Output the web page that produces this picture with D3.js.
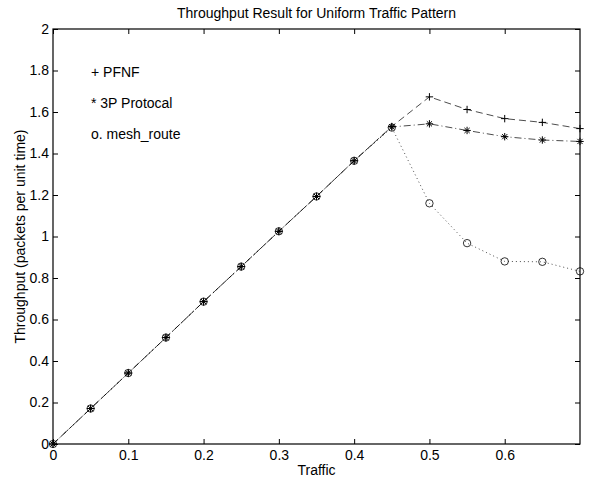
<!DOCTYPE html>
<html>
<head>
<meta charset="utf-8">
<script src="https://cdn.jsdelivr.net/npm/d3@7"></script>
<style>
  html, body { margin: 0; padding: 0; background: #fff; }
  svg { display: block; font-family: "Liberation Sans", Arial, sans-serif; }
</style>
</head>
<body>
<svg id="chart" width="590" height="480"></svg>
<script>
// ── Data ─────────────────────────────────────────────────────────
const traffic   = [0, 0.05, 0.1, 0.15, 0.2, 0.25, 0.3, 0.35, 0.4, 0.45, 0.5, 0.55, 0.6, 0.65, 0.7];
const pfnf      = [0, 0.171, 0.342, 0.513, 0.686, 0.855, 1.025, 1.193, 1.365, 1.53, 1.673, 1.612, 1.568, 1.55, 1.52];
const threeP    = [0, 0.171, 0.342, 0.513, 0.686, 0.855, 1.025, 1.193, 1.365, 1.528, 1.543, 1.511, 1.481, 1.465, 1.458];
const meshRoute = [0, 0.171, 0.342, 0.513, 0.686, 0.855, 1.025, 1.193, 1.365, 1.525, 1.16, 0.968, 0.88, 0.878, 0.832];
const xTicks = [0, 0.1, 0.2, 0.3, 0.4, 0.5, 0.6];
const yTicks = [0, 0.2, 0.4, 0.6, 0.8, 1, 1.2, 1.4, 1.6, 1.8, 2];
const legendLabels = ['+ PFNF', '* 3P Protocal', 'o. mesh_route'];

// ── Layout ───────────────────────────────────────────────────────
const svg = d3.select('#chart');
const plotLeft = 53, plotRight = 580, plotTop = 29, plotBottom = 444;
const fontSize = '14px';

const x = d3.scaleLinear().domain([0, 0.7]).range([plotLeft, plotRight]);
const y = d3.scaleLinear().domain([0, 2]).range([plotBottom, plotTop]);

// ── Axes (MATLAB style: inward ticks, full box) ──────────────────
const fmt = d => String(+d.toFixed(1));

svg.append('g')
  .attr('transform', `translate(0,${plotBottom})`)
  .call(d3.axisBottom(x).tickValues(xTicks).tickSizeInner(-5).tickSizeOuter(0).tickPadding(6).tickFormat(fmt));
svg.append('g')
  .attr('transform', `translate(0,${plotTop})`)
  .call(d3.axisTop(x).tickValues(xTicks).tickSizeInner(-5).tickSizeOuter(0).tickFormat(''));
svg.append('g')
  .attr('transform', `translate(${plotLeft},0)`)
  .call(d3.axisLeft(y).tickValues(yTicks).tickSizeInner(-5).tickSizeOuter(0).tickPadding(4).tickFormat(fmt));
svg.append('g')
  .attr('transform', `translate(${plotRight},0)`)
  .call(d3.axisRight(y).tickValues(yTicks).tickSizeInner(-5).tickSizeOuter(0).tickFormat(''));

svg.selectAll('.domain').remove();
svg.selectAll('.tick line').attr('stroke', '#000').attr('stroke-width', 1);
svg.selectAll('.tick text').attr('fill', '#000').style('font-size', fontSize)
  .style('font-family', '"Liberation Sans", Arial, sans-serif');

svg.append('rect')
  .attr('x', plotLeft).attr('y', plotTop)
  .attr('width', plotRight - plotLeft).attr('height', plotBottom - plotTop)
  .attr('fill', 'none').attr('stroke', '#000').attr('stroke-width', 1.2);

// ── Lines ────────────────────────────────────────────────────────
const plot = svg.append('g');
const line = d3.line().x((d, i) => x(traffic[i])).y(d => y(d));

const series = [
  { values: pfnf,      dash: '7,4',     marker: 'plus' },
  { values: threeP,    dash: '7,3,1,3', marker: 'star' },
  { values: meshRoute, dash: '1,3',     marker: 'circle' },
];

series.forEach(s => {
  plot.append('path')
    .datum(s.values)
    .attr('d', line)
    .attr('fill', 'none')
    .attr('stroke', '#000')
    .attr('stroke-width', 0.7)
    .attr('stroke-dasharray', s.dash);
});

// ── Markers ──────────────────────────────────────────────────────
series.forEach(s => {
  const g = plot.append('g').selectAll('g')
    .data(s.values)
    .join('g')
    .attr('transform', (d, i) => `translate(${x(traffic[i])},${y(d)})`);
  if (s.marker === 'circle') {
    g.append('circle').attr('r', 3.7)
      .attr('fill', 'none').attr('stroke', '#000').attr('stroke-width', 0.8);
  } else {
    const r = 3.7;
    g.append('path')
      .attr('d', s.marker === 'plus'
        ? `M${-r},0H${r}M0,${-r}V${r}`
        : `M${-r},0H${r}M0,${-r}V${r}M${-r * 0.7},${-r * 0.7}L${r * 0.7},${r * 0.7}M${-r * 0.7},${r * 0.7}L${r * 0.7},${-r * 0.7}`)
      .attr('stroke', '#000').attr('stroke-width', 1).attr('fill', 'none');
  }
});

// ── Text ─────────────────────────────────────────────────────────
svg.append('text')
  .attr('x', (plotLeft + plotRight) / 2).attr('y', 18)
  .attr('text-anchor', 'middle').style('font-size', fontSize)
  .text('Throughput Result for Uniform Traffic Pattern');

svg.append('text')
  .attr('x', (plotLeft + plotRight) / 2).attr('y', 475)
  .attr('text-anchor', 'middle').style('font-size', fontSize)
  .text('Traffic');

svg.append('text')
  .attr('transform', `translate(25,${(plotTop + plotBottom) / 2}) rotate(-90)`)
  .attr('text-anchor', 'middle').style('font-size', fontSize)
  .text('Throughput (packets per unit time)');

svg.append('g').selectAll('text')
  .data(legendLabels)
  .join('text')
  .attr('x', 91)
  .attr('y', (d, i) => 77 + i * 31)
  .style('font-size', fontSize)
  .text(d => d);
</script>
</body>
</html>
